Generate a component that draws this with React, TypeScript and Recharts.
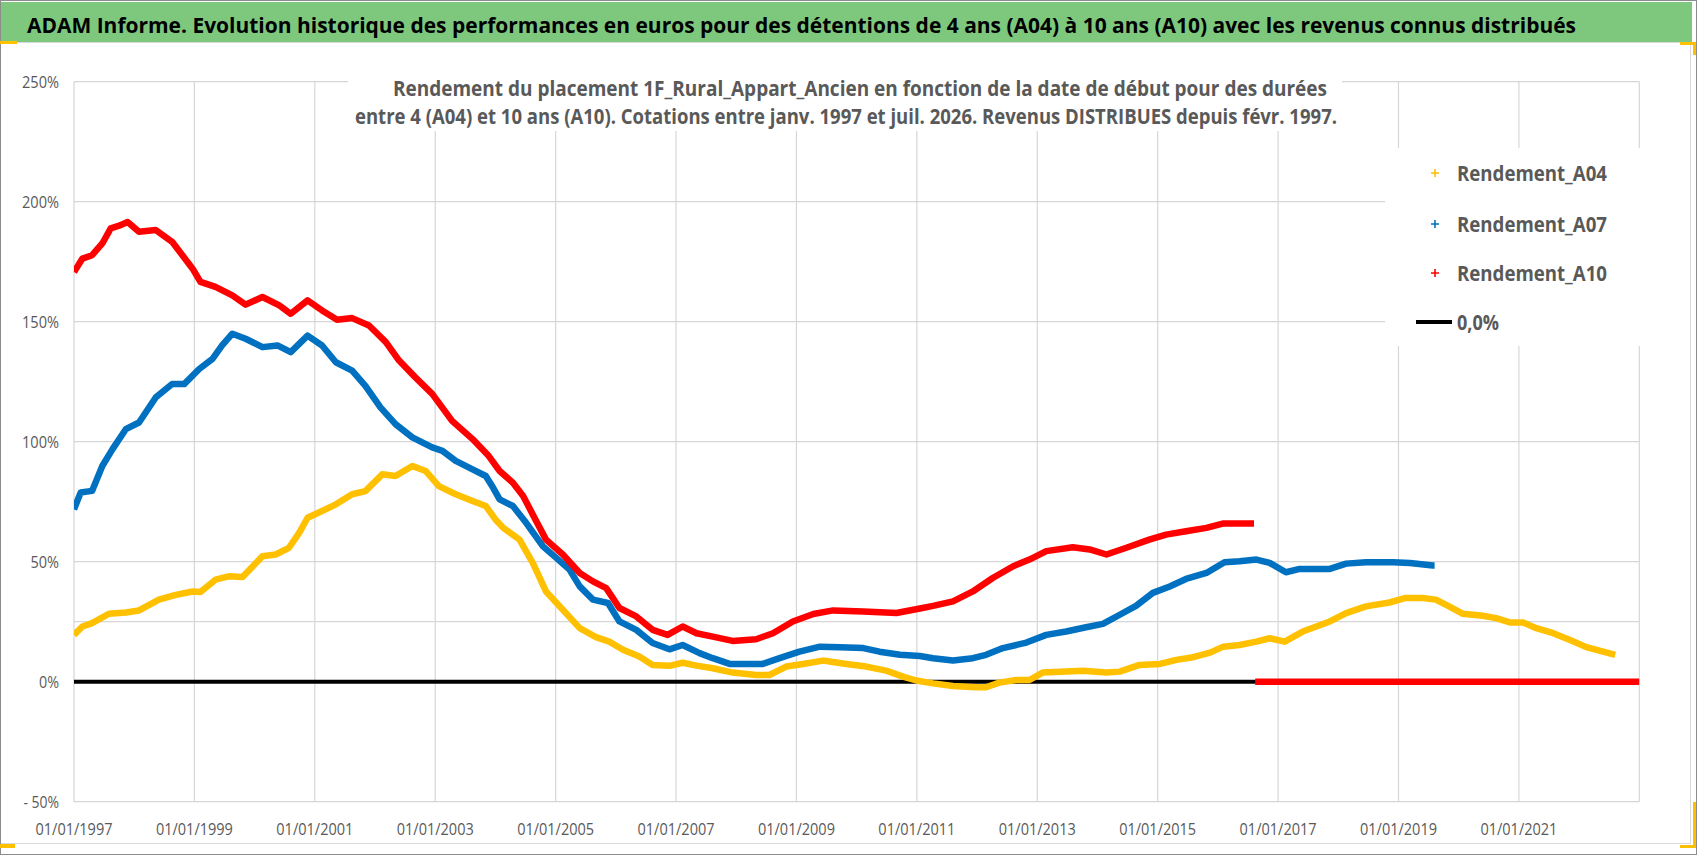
import React from 'react';
import { LineChart, Line, XAxis, YAxis, CartesianGrid, Legend } from 'recharts';

// Rendement_A04 (détention 4 ans), en %
const a04Years = [
  1997.0, 1997.14, 1997.3, 1997.58, 1997.86, 1998.08, 1998.41, 1998.69, 1998.97, 1999.1,
  1999.35, 1999.57, 1999.8, 2000.13, 2000.35, 2000.57, 2000.74, 2000.88, 2001.12, 2001.35,
  2001.62, 2001.84, 2002.12, 2002.34, 2002.62, 2002.84, 2003.06, 2003.34, 2003.62, 2003.84,
  2004.0, 2004.13, 2004.4, 2004.62, 2004.84, 2005.12, 2005.4, 2005.67, 2005.89, 2006.12,
  2006.39, 2006.61, 2006.89, 2007.11, 2007.34, 2007.61, 2007.94, 2008.33, 2008.55, 2008.83,
  2009.11, 2009.44, 2009.83, 2010.16, 2010.49, 2010.77, 2010.99, 2011.27, 2011.6, 2011.98,
  2012.15, 2012.37, 2012.65, 2012.87, 2013.09, 2013.48, 2013.76, 2014.15, 2014.37, 2014.7,
  2015.04, 2015.31, 2015.59, 2015.87, 2016.09, 2016.36, 2016.64, 2016.86, 2017.11, 2017.41,
  2017.86, 2018.13, 2018.46, 2018.85, 2019.12, 2019.4, 2019.62, 2019.84, 2020.07, 2020.4,
  2020.62, 2020.85, 2021.07, 2021.29, 2021.57, 2021.85, 2022.12, 2022.4, 2022.6,
];
const a04Values = [
  19.5, 23.0, 24.4, 28.3, 28.8, 29.7, 34.2, 36.2, 37.6, 37.4,
  42.5, 43.9, 43.6, 52.3, 53.0, 55.8, 62.0, 68.3, 71.1, 73.9,
  78.1, 79.4, 86.4, 85.7, 89.9, 87.8, 81.5, 78.1, 75.3, 73.2,
  67.6, 64.1, 59.2, 49.5, 37.6, 30.0, 22.3, 18.6, 16.7, 13.3,
  10.5, 7.0, 6.6, 7.9, 6.7, 5.6, 3.8, 2.8, 2.8, 6.3,
  7.4, 8.8, 7.4, 6.3, 4.6, 2.1, 0.5, -0.7, -1.8, -2.3,
  -2.3, -0.4, 0.7, 0.7, 3.8, 4.2, 4.6, 3.8, 4.2, 7.0,
  7.4, 9.1, 10.2, 12.1, 14.6, 15.3, 16.7, 18.1, 16.7, 20.9,
  25.1, 28.6, 31.4, 33.0, 34.9, 34.9, 34.2, 31.4, 28.3, 27.5,
  26.5, 24.7, 24.7, 22.3, 20.2, 17.4, 14.4, 12.5, 11.2,
];

// Rendement_A07 (détention 7 ans), en %
const a07Years = [
  1997.0, 1997.11, 1997.3, 1997.47, 1997.64, 1997.86, 1998.08, 1998.36, 1998.63, 1998.83,
  1999.08, 1999.3, 1999.46, 1999.63, 1999.85, 2000.13, 2000.38, 2000.6, 2000.88, 2001.12,
  2001.35, 2001.62, 2001.84, 2002.09, 2002.34, 2002.62, 2002.95, 2003.12, 2003.34, 2003.62,
  2003.84, 2003.96, 2004.07, 2004.29, 2004.51, 2004.79, 2005.01, 2005.23, 2005.4, 2005.62,
  2005.87, 2006.06, 2006.34, 2006.61, 2006.89, 2007.11, 2007.39, 2007.61, 2007.89, 2008.44,
  2008.72, 2009.05, 2009.39, 2009.72, 2010.11, 2010.38, 2010.72, 2011.05, 2011.27, 2011.6,
  2011.93, 2012.15, 2012.43, 2012.82, 2013.15, 2013.48, 2013.81, 2014.09, 2014.37, 2014.64,
  2014.92, 2015.2, 2015.47, 2015.81, 2016.11, 2016.36, 2016.64, 2016.86, 2017.13, 2017.36,
  2017.86, 2018.13, 2018.46, 2018.91, 2019.19, 2019.57, 2019.6,
];
const a07Values = [
  71.8, 78.8, 79.5, 89.9, 96.9, 105.2, 108.0, 118.5, 124.0, 124.0,
  130.3, 134.5, 140.1, 145.0, 142.9, 139.4, 140.1, 137.3, 144.2, 140.1,
  133.1, 129.6, 123.3, 114.3, 107.3, 101.8, 97.6, 96.2, 92.0, 88.5,
  85.7, 80.9, 76.0, 73.2, 66.2, 56.4, 51.6, 46.7, 39.7, 34.2,
  32.8, 25.1, 21.6, 16.1, 13.5, 15.3, 11.9, 9.8, 7.4, 7.4,
  9.8, 12.5, 14.6, 14.4, 14.0, 12.5, 11.2, 10.7, 9.8, 8.8,
  9.8, 11.2, 14.0, 16.3, 19.5, 20.9, 22.7, 24.1, 27.9, 31.6,
  37.0, 39.7, 42.8, 45.3, 49.8, 50.2, 50.9, 49.5, 45.6, 47.0,
  47.0, 49.2, 49.8, 49.8, 49.5, 48.4, 48.4,
];

// Rendement_A10 (détention 10 ans), en %
const a10Years = [
  1997.0, 1997.14, 1997.3, 1997.47, 1997.61, 1997.75, 1997.89, 1998.08, 1998.36, 1998.63,
  1998.97, 1999.1, 1999.35, 1999.63, 1999.85, 2000.13, 2000.41, 2000.6, 2000.88, 2001.12,
  2001.37, 2001.62, 2001.9, 2002.18, 2002.4, 2002.67, 2002.95, 2003.28, 2003.62, 2003.89,
  2004.07, 2004.29, 2004.46, 2004.62, 2004.84, 2005.12, 2005.4, 2005.62, 2005.84, 2006.06,
  2006.34, 2006.61, 2006.86, 2007.11, 2007.34, 2007.61, 2007.94, 2008.33, 2008.61, 2008.94,
  2009.28, 2009.61, 2010.11, 2010.66, 2011.05, 2011.27, 2011.6, 2011.93, 2012.26, 2012.6,
  2012.87, 2013.15, 2013.59, 2013.87, 2014.15, 2014.48, 2014.86, 2015.14, 2015.47, 2015.81,
  2016.08, 2016.36, 2016.6,
];
const a10Values = [
  170.7, 176.3, 177.7, 182.6, 188.9, 190.0, 191.5, 187.5, 188.2, 183.3,
  172.1, 166.6, 164.5, 161.0, 157.1, 160.3, 156.8, 153.3, 158.9, 154.7,
  150.8, 151.5, 148.4, 141.5, 133.8, 126.8, 119.9, 108.7, 101.1, 94.0,
  87.8, 82.9, 77.4, 69.7, 59.2, 53.0, 45.3, 41.8, 39.0, 30.7,
  27.2, 21.6, 19.5, 23.0, 20.2, 18.8, 17.0, 17.7, 20.2, 25.1,
  28.2, 29.7, 29.3, 28.6, 30.5, 31.6, 33.5, 37.6, 43.2, 48.1,
  50.9, 54.4, 56.0, 55.1, 53.0, 55.8, 59.2, 61.3, 62.7, 64.1,
  65.9, 65.9, 65.9,
];
// A10 sans cotation au-delà de juil. 2016 : valeurs à 0
const a10TailYears = [2016.62, 2023.0];
const a10TailValues = [0, 0];

// courbe de référence 0,0%
const zeroYears = [1997.0, 2023.0];
const zeroValues = [0, 0];

const xTicks = [1997, 1999, 2001, 2003, 2005, 2007, 2009, 2011, 2013, 2015, 2017, 2019, 2021];
const yTicks = [-50, 0, 25, 50, 100, 150, 200, 250];

const seriesNames = ['Rendement_A04', 'Rendement_A07', 'Rendement_A10'];
const seriesColors = ['#FFC000', '#0070C0', '#FF0000'];
const zeroName = '0,0%';

const titleText =
  'ADAM Informe. Evolution historique des performances en euros pour des détentions de 4 ans (A04) à 10 ans (A10) avec les revenus connus distribués';
const subtitleLines = [
  'Rendement du placement 1F_Rural_Appart_Ancien en fonction de la date de début pour des durées',
  'entre 4 (A04) et 10 ans (A10). Cotations entre janv. 1997 et juil. 2026. Revenus DISTRIBUES depuis févr. 1997.',
];

const FONT = '"Open Sans", "Noto Sans", sans-serif';
const GREY_TEXT = '#595959';

const toPoints = (years: number[], values: number[]) =>
  years.map((t, i) => ({ t, v: values[i] }));

const pctLabel = (v: number) => (v < 0 ? `- ${Math.abs(v)}%` : `${v}%`);

// approximate label widths of the original (narrow Calibri-like glyphs)
const pctWidth = (s: string) =>
  s.split('').reduce((w, c) => w + (c === '%' ? 11.5 : c === '-' ? 4.5 : c === ' ' ? 2.6 : 8.5), 0);

const YTick = (props: any) => {
  const { x, y, payload } = props;
  if (payload.value === 25) return <g />;
  const label = pctLabel(payload.value);
  return (
    <text
      x={x}
      y={y}
      dy="0.36em"
      textAnchor="end"
      fontFamily={FONT}
      fontSize={17}
      fill={GREY_TEXT}
      textLength={pctWidth(label)}
      lengthAdjust="spacingAndGlyphs"
    >
      {label}
    </text>
  );
};

const XTick = (props: any) => {
  const { x, y, payload } = props;
  return (
    <text
      x={x}
      y={y}
      dy={33}
      textAnchor="middle"
      fontFamily={FONT}
      fontSize={17}
      fill={GREY_TEXT}
      textLength={77}
      lengthAdjust="spacingAndGlyphs"
    >
      {`01/01/${payload.value}`}
    </text>
  );
};

const LegendBox = () => {
  const rows = [25, 76, 125, 174];
  return (
    <svg width={255} height={198} style={{ display: 'block', overflow: 'visible' }}>
      {seriesNames.map((name, i) => (
        <g key={name}>
          <path
            d={`M46 ${rows[i]} h8 M50 ${rows[i] - 4} v8`}
            stroke={seriesColors[i]}
            strokeWidth={1.6}
          />
          <text
            x={72}
            y={rows[i] + 8}
            fontFamily={FONT}
            fontWeight={700}
            fontSize={21}
            fill={GREY_TEXT}
            textLength={150}
            lengthAdjust="spacingAndGlyphs"
          >
            {name}
          </text>
        </g>
      ))}
      <line x1={31} x2={67} y1={rows[3]} y2={rows[3]} stroke="#000" strokeWidth={4} />
      <text
        x={72}
        y={rows[3] + 8}
        fontFamily={FONT}
        fontWeight={700}
        fontSize={21}
        fill={GREY_TEXT}
        textLength={42}
        lengthAdjust="spacingAndGlyphs"
      >
        {zeroName}
      </text>
    </svg>
  );
};

export default function App() {
  const a04 = toPoints(a04Years, a04Values);
  const a07 = toPoints(a07Years, a07Values);
  const a10 = toPoints(a10Years, a10Values);
  const a10Tail = toPoints(a10TailYears, a10TailValues);
  const zero = toPoints(zeroYears, zeroValues);

  return (
    <div
      style={{
        position: 'fixed',
        left: 0,
        top: 0,
        width: 1698,
        height: 856,
        background: '#fff',
        overflow: 'hidden',
      }}
    >
      <LineChart
        width={1698}
        height={856}
        margin={{ top: 81.7, right: 58.7, bottom: 24.3, left: 14 }}
      >
        <CartesianGrid stroke="#d6d6d6" strokeWidth={1.2} />
        <XAxis
          type="number"
          dataKey="t"
          domain={[1997, 2023]}
          ticks={xTicks}
          interval={0}
          allowDataOverflow
          height={30}
          axisLine={false}
          tickLine={false}
          tickSize={0}
          tickMargin={0}
          tick={<XTick />}
        />
        <YAxis
          type="number"
          dataKey="v"
          domain={[-50, 250]}
          ticks={yTicks}
          interval={0}
          allowDataOverflow
          width={60}
          axisLine={false}
          tickLine={false}
          tickSize={0}
          tickMargin={15}
          tick={<YTick />}
        />
        <Legend
          layout="vertical"
          align="center"
          verticalAlign="middle"
          content={<LegendBox />}
          wrapperStyle={{
            left: 1385,
            top: 148,
            width: 255,
            height: 198,
            backgroundColor: '#fff',
          }}
        />
        <Line
          data={zero}
          dataKey="v"
          name={zeroName}
          type="linear"
          stroke="#000"
          strokeWidth={4}
          dot={false}
          isAnimationActive={false}
        />
        {[a04, a07, a10].map((pts, i) => (
          <Line
            key={seriesNames[i]}
            data={pts}
            dataKey="v"
            name={seriesNames[i]}
            type="linear"
            stroke={seriesColors[i]}
            strokeWidth={6.5}
            strokeLinejoin="round"
            dot={false}
            isAnimationActive={false}
          />
        ))}
        <Line
          data={a10Tail}
          dataKey="v"
          name="Rendement_A10 (0)"
          type="linear"
          stroke={seriesColors[2]}
          strokeWidth={6.5}
          dot={false}
          isAnimationActive={false}
        />
      </LineChart>

      {/* title bar, subtitle box and sheet frame drawn over the chart */}
      <svg
        width={1698}
        height={856}
        style={{ position: 'absolute', left: 0, top: 0, pointerEvents: 'none' }}
      >
        <rect x={0} y={2} width={1692} height={40} fill="#7ec87e" />
        <text
          x={27}
          y={32.5}
          fontFamily={FONT}
          fontWeight={700}
          fontSize={22}
          fill="#000"
          textLength={1549}
          lengthAdjust="spacingAndGlyphs"
        >
          {titleText}
        </text>

        <rect x={348} y={58} width={994} height={73} fill="#fff" />
        <text
          x={393}
          y={96}
          fontFamily={FONT}
          fontWeight={700}
          fontSize={21}
          fill={GREY_TEXT}
          textLength={934}
          lengthAdjust="spacingAndGlyphs"
        >
          {subtitleLines[0]}
        </text>
        <text
          x={355}
          y={124}
          fontFamily={FONT}
          fontWeight={700}
          fontSize={21}
          fill={GREY_TEXT}
          textLength={982}
          lengthAdjust="spacingAndGlyphs"
        >
          {subtitleLines[1]}
        </text>

        <rect x={0.5} y={42.5} width={1690} height={801} fill="none" stroke="#d9d9d9" />
        <rect x={0.5} y={0.5} width={1696} height={854} fill="none" stroke="#8c8c8c" />

        <g fill="#FFC000">
          <rect x={0} y={41} width={17} height={3} />
          <rect x={1680} y={42} width={16} height={3} />
          <rect x={1693} y={42} width={3} height={13} />
          <rect x={1693} y={802} width={3} height={46} />
          <rect x={1680} y={845} width={16} height={3} />
          <rect x={0} y={844} width={15} height={4} />
        </g>
      </svg>
    </div>
  );
}
